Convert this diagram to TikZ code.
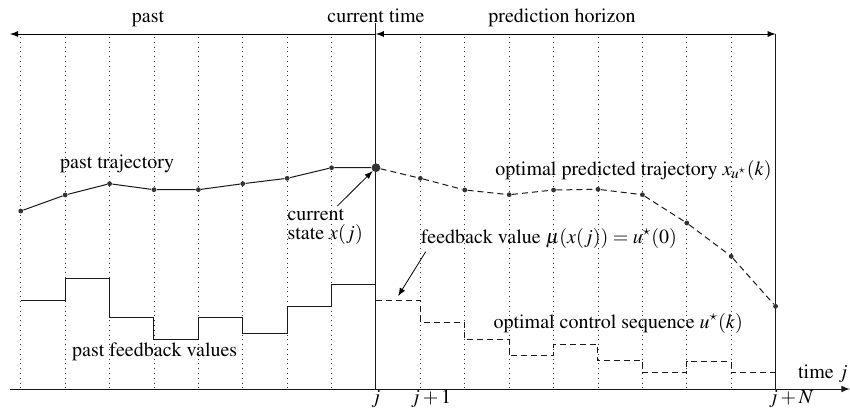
\documentclass[tikz,border=0pt]{standalone}
\usepackage[T1]{fontenc}
\usepackage{mathptmx}
\usetikzlibrary{arrows, positioning}

\begin{document}
\begin{tikzpicture}[
    x=22.2pt, y=-0.5pt,
    every node/.style={inner sep=0pt},
    grid/.style={dotted, black!80},
    axis/.style={black!90, line width=0.5pt},
    dot/.style={circle, fill=black!80, minimum size=2.4pt},
    bigdot/.style={circle, fill=black!80, minimum size=4.4pt},
    pastline/.style={black!90, line width=0.5pt},
    predline/.style={black!90, line width=0.5pt, dash pattern=on 3pt off 2pt},
    arrow/.style={-latex, black, line width=0.4pt}
]
\useasboundingbox (-8.468,0) rectangle (10.676,408);

% sampling grid
\foreach \k in {-8,...,-1,1,2,...,8}
    \draw[grid] (\k,37) -- (\k,389);

% time axis and horizon
\coordinate (jtop) at (0,34);
\coordinate (pastend) at (-8.24,34);
\coordinate (hortop) at (9,34);
\draw[axis, -latex] (-8.24,389) -- (10.676,389);
\draw[axis] (0,23) -- (0,389);
\draw[axis] (hortop) -- (9,389);
\draw[arrow] (jtop) -- (pastend);
\draw[arrow, latex-latex] (jtop) -- (hortop);

\node[anchor=base] (pastlbl) at (-5.135,22.5) {past};
\node[anchor=base] (nowlbl) at (0,22.5) {current time};
\node[anchor=base] (horlbl) at (4.19,22.5) {prediction horizon};
\node[anchor=base west] (timelbl) at (9.5,378) {time $j$};
\node[anchor=base] (j0) at (0,403) {$j$};
\node[anchor=base] (j1) at (1.24,403) {$j+1$};
\node[anchor=base] (jN) at (9.35,403) {$j+N$};

% trajectories
\foreach \k/\y [count=\i from 0] in {-8/211, -7/195, -6/183.7, -5/189.7, -4/189.7, -3/183.7, -2/178.3, -1/167.7}
    \node[dot] (past\i) at (\k,\y) {};
\node[bigdot] (now) at (0,167.7) {};
\foreach \y [count=\i] in {178.3, 190, 194.7, 190, 189.3, 194.7, 223, 256.3, 306.3}
    \node[dot] (pred\i) at (\i,\y) {};

\draw[pastline] (past0) -- (past1) -- (past2) -- (past3) -- (past4) -- (past5) -- (past6) -- (past7) -- (now);
\draw[predline] (now) -- (pred1) -- (pred2) -- (pred3) -- (pred4) -- (pred5) -- (pred6) -- (pred7) -- (pred8) -- (pred9);

% feedback values
\draw[pastline] (-8,300.7) -| (-7,278.7) -| (-6,317.3) -| (-5,339.3) -| (-4,317.3) -| (-3,333.7) -| (-2,306) -| (-1,284) -- (0,284);
\draw[predline] (0,300.7) -| (1,322.3) -| (2,339.3) -| (3,355.7) -| (4,344.7) -| (5,360.7) -| (6,372.3) -| (7,361.3) -| (8,372.3) -- (9,372.3);

% labels
\node[anchor=base] (ptraj) at (-5.83,168.3) {past trajectory};
\node[anchor=base east] (otraj) at (8.92,175) {optimal predicted trajectory $x_{u^\star}(k)$};
\node[anchor=north west, align=left] (state) at (-2,209) {current\\[-2.5pt]state $x(j)$};
\node[anchor=base west] (fbval) at (1,243) {feedback value $\mu(x(j))=u^\star(0)$};
\node[anchor=base west] (octrl) at (2.64,328) {optimal control sequence $u^\star(k)$};
\node[anchor=base west] (pfb) at (-6.85,356) {past feedback values};

\coordinate (cs) at (-0.87,206);
\coordinate (fb) at (1.12,251.7);
\coordinate (u0) at (0.5,296);
\draw[arrow] (cs) -- (now);
\draw[arrow] (fb) -- (u0);
\end{tikzpicture}
\end{document}
